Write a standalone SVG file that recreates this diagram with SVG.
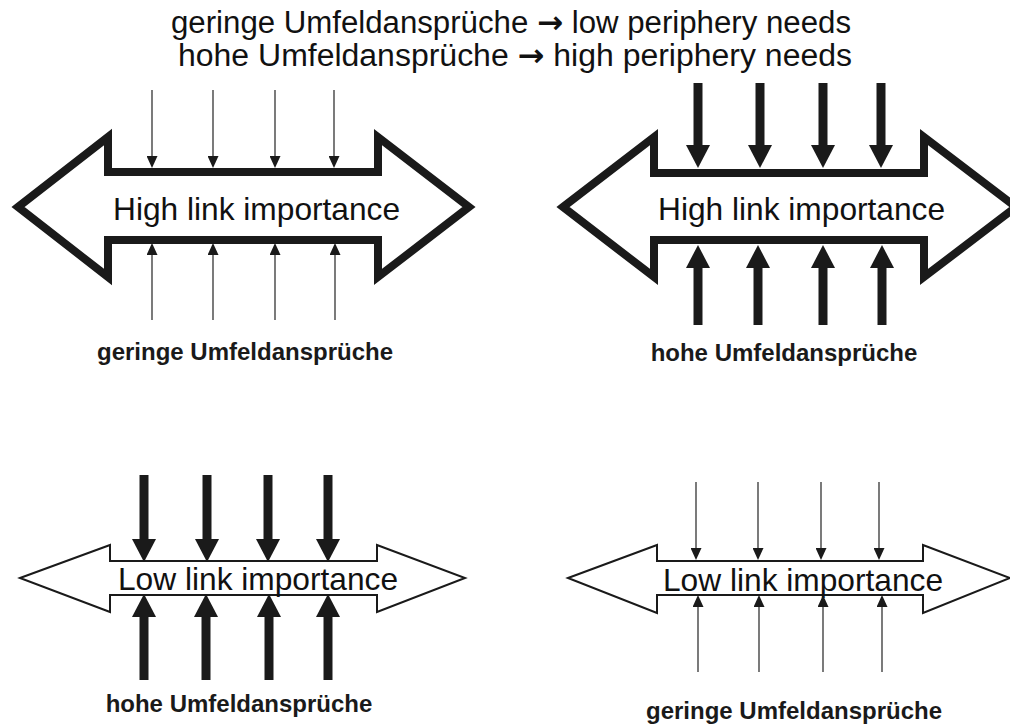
<svg xmlns="http://www.w3.org/2000/svg" width="1010" height="727" viewBox="0 0 1010 727">
<style>
text{font-family:"Liberation Sans",Arial,sans-serif;fill:#111}
.title{font-size:31px}
.arr{font-family:"DejaVu Sans",sans-serif;font-weight:bold}
.big{font-size:31.7px}
.lab{font-size:24px;font-weight:bold;text-anchor:middle;fill:#1a1a1a}
.heavy{fill:#fff;stroke:#1a1a1a;stroke-width:8;stroke-linejoin:miter;stroke-miterlimit:10}
.light{fill:#fff;stroke:#1a1a1a;stroke-width:2;stroke-linejoin:miter;stroke-miterlimit:10}
.thin{stroke:#333;stroke-width:1.3}
.thick{stroke:#1a1a1a;stroke-width:9}
</style>
<defs>
<marker id="hs" viewBox="0 0 12 11" refX="0" refY="5.5" markerWidth="12" markerHeight="11" markerUnits="userSpaceOnUse" orient="auto"><path d="M0,0 L12,5.5 L0,11 z" fill="#1a1a1a"/></marker>
<marker id="hb" viewBox="0 0 23 24" refX="0" refY="12" markerWidth="23" markerHeight="24" markerUnits="userSpaceOnUse" orient="auto"><path d="M0,0 L23,12 L0,24 z" fill="#1a1a1a"/></marker>
</defs>
<g id="title">
<text class="title" x="511" y="33" text-anchor="middle" textLength="680" lengthAdjust="spacingAndGlyphs">geringe Umfeldansprüche <tspan class="arr">→</tspan> low periphery needs</text>
<text class="title" x="515" y="66" text-anchor="middle" textLength="674" lengthAdjust="spacingAndGlyphs">hohe Umfeldansprüche <tspan class="arr">→</tspan> high periphery needs</text>
</g>
<g id="node-top-left">
<polygon class="heavy" points="18,207 108,137 108,172 378,172 378,137 469,207 378,277 378,240 108,240 108,277"/>
<text class="big" x="113" y="220">High link importance</text>
</g>
<g id="node-top-right">
<polygon class="heavy" points="563,207 654,137 654,173 924,173 924,137 1016,207 924,277 924,240 654,240 654,277"/>
<text class="big" x="658" y="220">High link importance</text>
</g>
<g id="node-bottom-left">
<polygon class="light" points="20,578 110,545 110,561 377,561 377,545 465,578 377,612 377,595 110,595 110,612"/>
<text class="big" x="118" y="590">Low link importance</text>
</g>
<g id="node-bottom-right">
<polygon class="light" points="568,578 657,545 657,561 923,561 923,545 1010,578 923,613 923,595 657,595 657,613"/>
<text class="big" x="663" y="591">Low link importance</text>
</g>
<g id="connectors">
<line class="thin" x1="152" y1="90" x2="152" y2="156" marker-end="url(#hs)"/>
<line class="thin" x1="213" y1="90" x2="213" y2="156" marker-end="url(#hs)"/>
<line class="thin" x1="275" y1="90" x2="275" y2="156" marker-end="url(#hs)"/>
<line class="thin" x1="334" y1="90" x2="334" y2="156" marker-end="url(#hs)"/>
<line class="thin" x1="152" y1="320" x2="152" y2="255" marker-end="url(#hs)"/>
<line class="thin" x1="213" y1="320" x2="213" y2="255" marker-end="url(#hs)"/>
<line class="thin" x1="275" y1="320" x2="275" y2="255" marker-end="url(#hs)"/>
<line class="thin" x1="335" y1="320" x2="335" y2="255" marker-end="url(#hs)"/>
<line class="thick" x1="698" y1="83" x2="698" y2="145" marker-end="url(#hb)"/>
<line class="thick" x1="760" y1="83" x2="760" y2="145" marker-end="url(#hb)"/>
<line class="thick" x1="823" y1="83" x2="823" y2="145" marker-end="url(#hb)"/>
<line class="thick" x1="881" y1="83" x2="881" y2="145" marker-end="url(#hb)"/>
<line class="thick" x1="698" y1="325" x2="698" y2="268" marker-end="url(#hb)"/>
<line class="thick" x1="758" y1="325" x2="758" y2="268" marker-end="url(#hb)"/>
<line class="thick" x1="823" y1="325" x2="823" y2="268" marker-end="url(#hb)"/>
<line class="thick" x1="882" y1="325" x2="882" y2="268" marker-end="url(#hb)"/>
<line class="thick" x1="144" y1="475" x2="144" y2="539" marker-end="url(#hb)"/>
<line class="thick" x1="207" y1="475" x2="207" y2="539" marker-end="url(#hb)"/>
<line class="thick" x1="268" y1="475" x2="268" y2="539" marker-end="url(#hb)"/>
<line class="thick" x1="328" y1="475" x2="328" y2="539" marker-end="url(#hb)"/>
<line class="thick" x1="144" y1="680" x2="144" y2="617" marker-end="url(#hb)"/>
<line class="thick" x1="206" y1="680" x2="206" y2="617" marker-end="url(#hb)"/>
<line class="thick" x1="269" y1="680" x2="269" y2="617" marker-end="url(#hb)"/>
<line class="thick" x1="328" y1="680" x2="328" y2="617" marker-end="url(#hb)"/>
<line class="thin" x1="696" y1="482" x2="696" y2="548" marker-end="url(#hs)"/>
<line class="thin" x1="758" y1="482" x2="758" y2="548" marker-end="url(#hs)"/>
<line class="thin" x1="821" y1="482" x2="821" y2="548" marker-end="url(#hs)"/>
<line class="thin" x1="879" y1="482" x2="879" y2="548" marker-end="url(#hs)"/>
<line class="thin" x1="698" y1="672" x2="698" y2="607" marker-end="url(#hs)"/>
<line class="thin" x1="759" y1="672" x2="759" y2="607" marker-end="url(#hs)"/>
<line class="thin" x1="823" y1="672" x2="823" y2="607" marker-end="url(#hs)"/>
<line class="thin" x1="882" y1="672" x2="882" y2="607" marker-end="url(#hs)"/>
</g>
<g id="labels">
<text class="lab" x="245" y="360">geringe Umfeldansprüche</text>
<text class="lab" x="784" y="361">hohe Umfeldansprüche</text>
<text class="lab" x="239" y="712">hohe Umfeldansprüche</text>
<text class="lab" x="794" y="719">geringe Umfeldansprüche</text>
</g>
</svg>
